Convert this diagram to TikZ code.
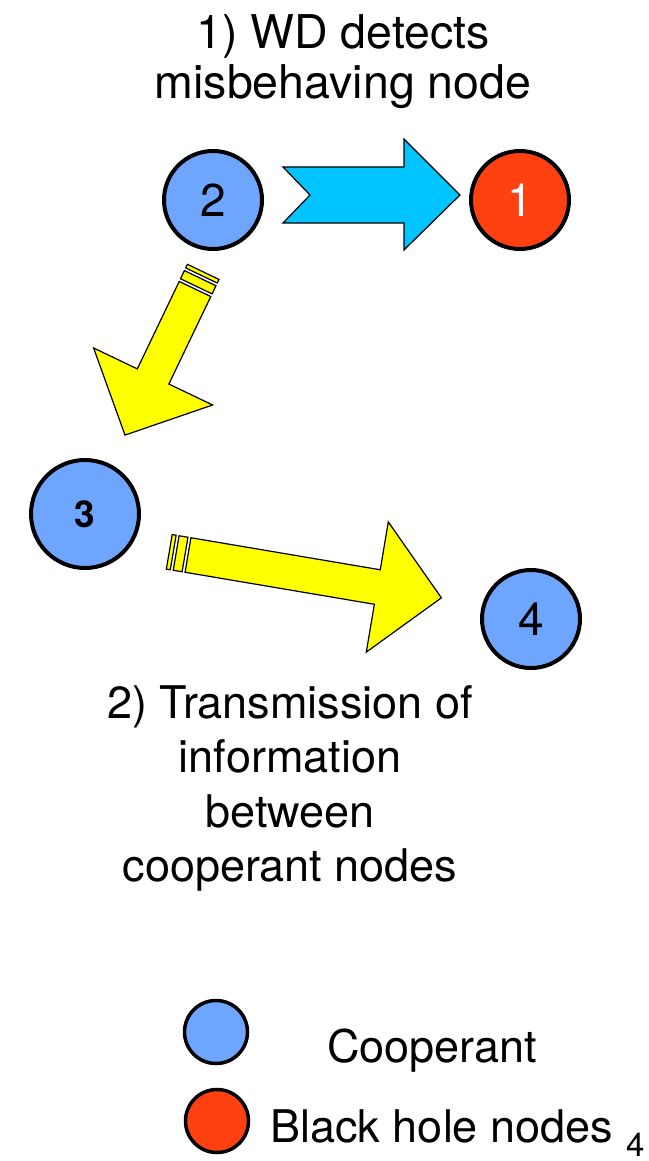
\documentclass[tikz,border=0pt]{standalone}
\usepackage{fontspec}
\setmainfont{TeX Gyre Heros}
\definecolor{coopblue}{RGB}{110,166,255}
\definecolor{holered}{RGB}{255,65,17}
\definecolor{flowcyan}{RGB}{0,196,255}
\definecolor{flowyellow}{RGB}{255,255,0}
% Yellow block arrow with two broken stripes at its tail:
% #1 = tail point, #2 = heading (degrees, clockwise on the page), #3 = length
\newcommand{\brokenarrow}[3]{%
  \begin{scope}[shift={#1}, rotate=-#2]
    \filldraw[blockarrow] (0,-17.5) -- ({#3-65},-17.5) -- ({#3-65},-66) -- (#3,0)
      -- ({#3-65},66) -- ({#3-65},17.5) -- (0,17.5) -- cycle;
    \filldraw[blockarrow] (-12,-17.5) rectangle (-3,17.5);
    \filldraw[blockarrow] (-19,-17.5) rectangle (-15,17.5);
  \end{scope}}
\begin{document}
\begin{tikzpicture}[x=1pt,y=-1pt,
  netnode/.style={circle, draw=black, line width=4pt, inner sep=0pt,
    minimum size=98pt, font=\fontsize{46}{46}\selectfont},
  coop/.style={netnode, fill=coopblue},
  hole/.style={netnode, fill=holered, text=white},
  keynode/.style={circle, draw=black, line width=3.5pt, inner sep=0pt, minimum size=63pt},
  blockarrow/.style={fill=flowyellow, draw=black, line width=1.2pt, line join=miter},
  caption/.style={align=center, inner sep=0pt},
  keytext/.style={inner sep=0pt, font=\fontsize{45}{45}\selectfont}]
\useasboundingbox[fill=white] (0,0) rectangle (648,1161);

% step 1: the watchdog node spots the misbehaving node
\node[caption, anchor=north, font=\fontsize{46.5}{50}\selectfont] (title) at (343,14)
  {1) WD detects\\misbehaving node};
\node[coop] (n2) at (213,200) {2};
\node[hole] (n1) at (520,200) {1};
\filldraw[fill=flowcyan, draw=black, line width=1.2pt]
  (283,167) -- (404,167) -- (404,139) -- (460,195) -- (404,250) -- (404,223)
  -- (283,223) -- (310,195) -- cycle;

% step 2: the information is passed on among cooperant nodes
\brokenarrow{(195,289)}{115.6}{162}
\node[netnode, fill=coopblue, minimum size=108pt, font=\fontsize{37}{37}\selectfont\bfseries]
  (n3) at (85,514) {3};
\brokenarrow{(188,555)}{9.6}{257}
\node[coop] (n4) at (531,619) {4};
\node[caption, anchor=north, font=\fontsize{45}{54.5}\selectfont] (step2) at (290,685)
  {2) Transmission of\\information\\between\\cooperant nodes};

% key
\node[keynode, fill=coopblue] (kcoop) at (216,1032) {};
\node[keynode, fill=holered] (khole) at (217,1121) {};
\node[keytext, anchor=base west] (lcoop) at (327,1062) {Cooperant};
\node[keytext, anchor=base west] (lhole) at (270,1142) {Black hole nodes};
\node[inner sep=0pt, anchor=base west, font=\fontsize{33}{33}\selectfont] (pnum) at (626,1156) {4};
\end{tikzpicture}
\end{document}
